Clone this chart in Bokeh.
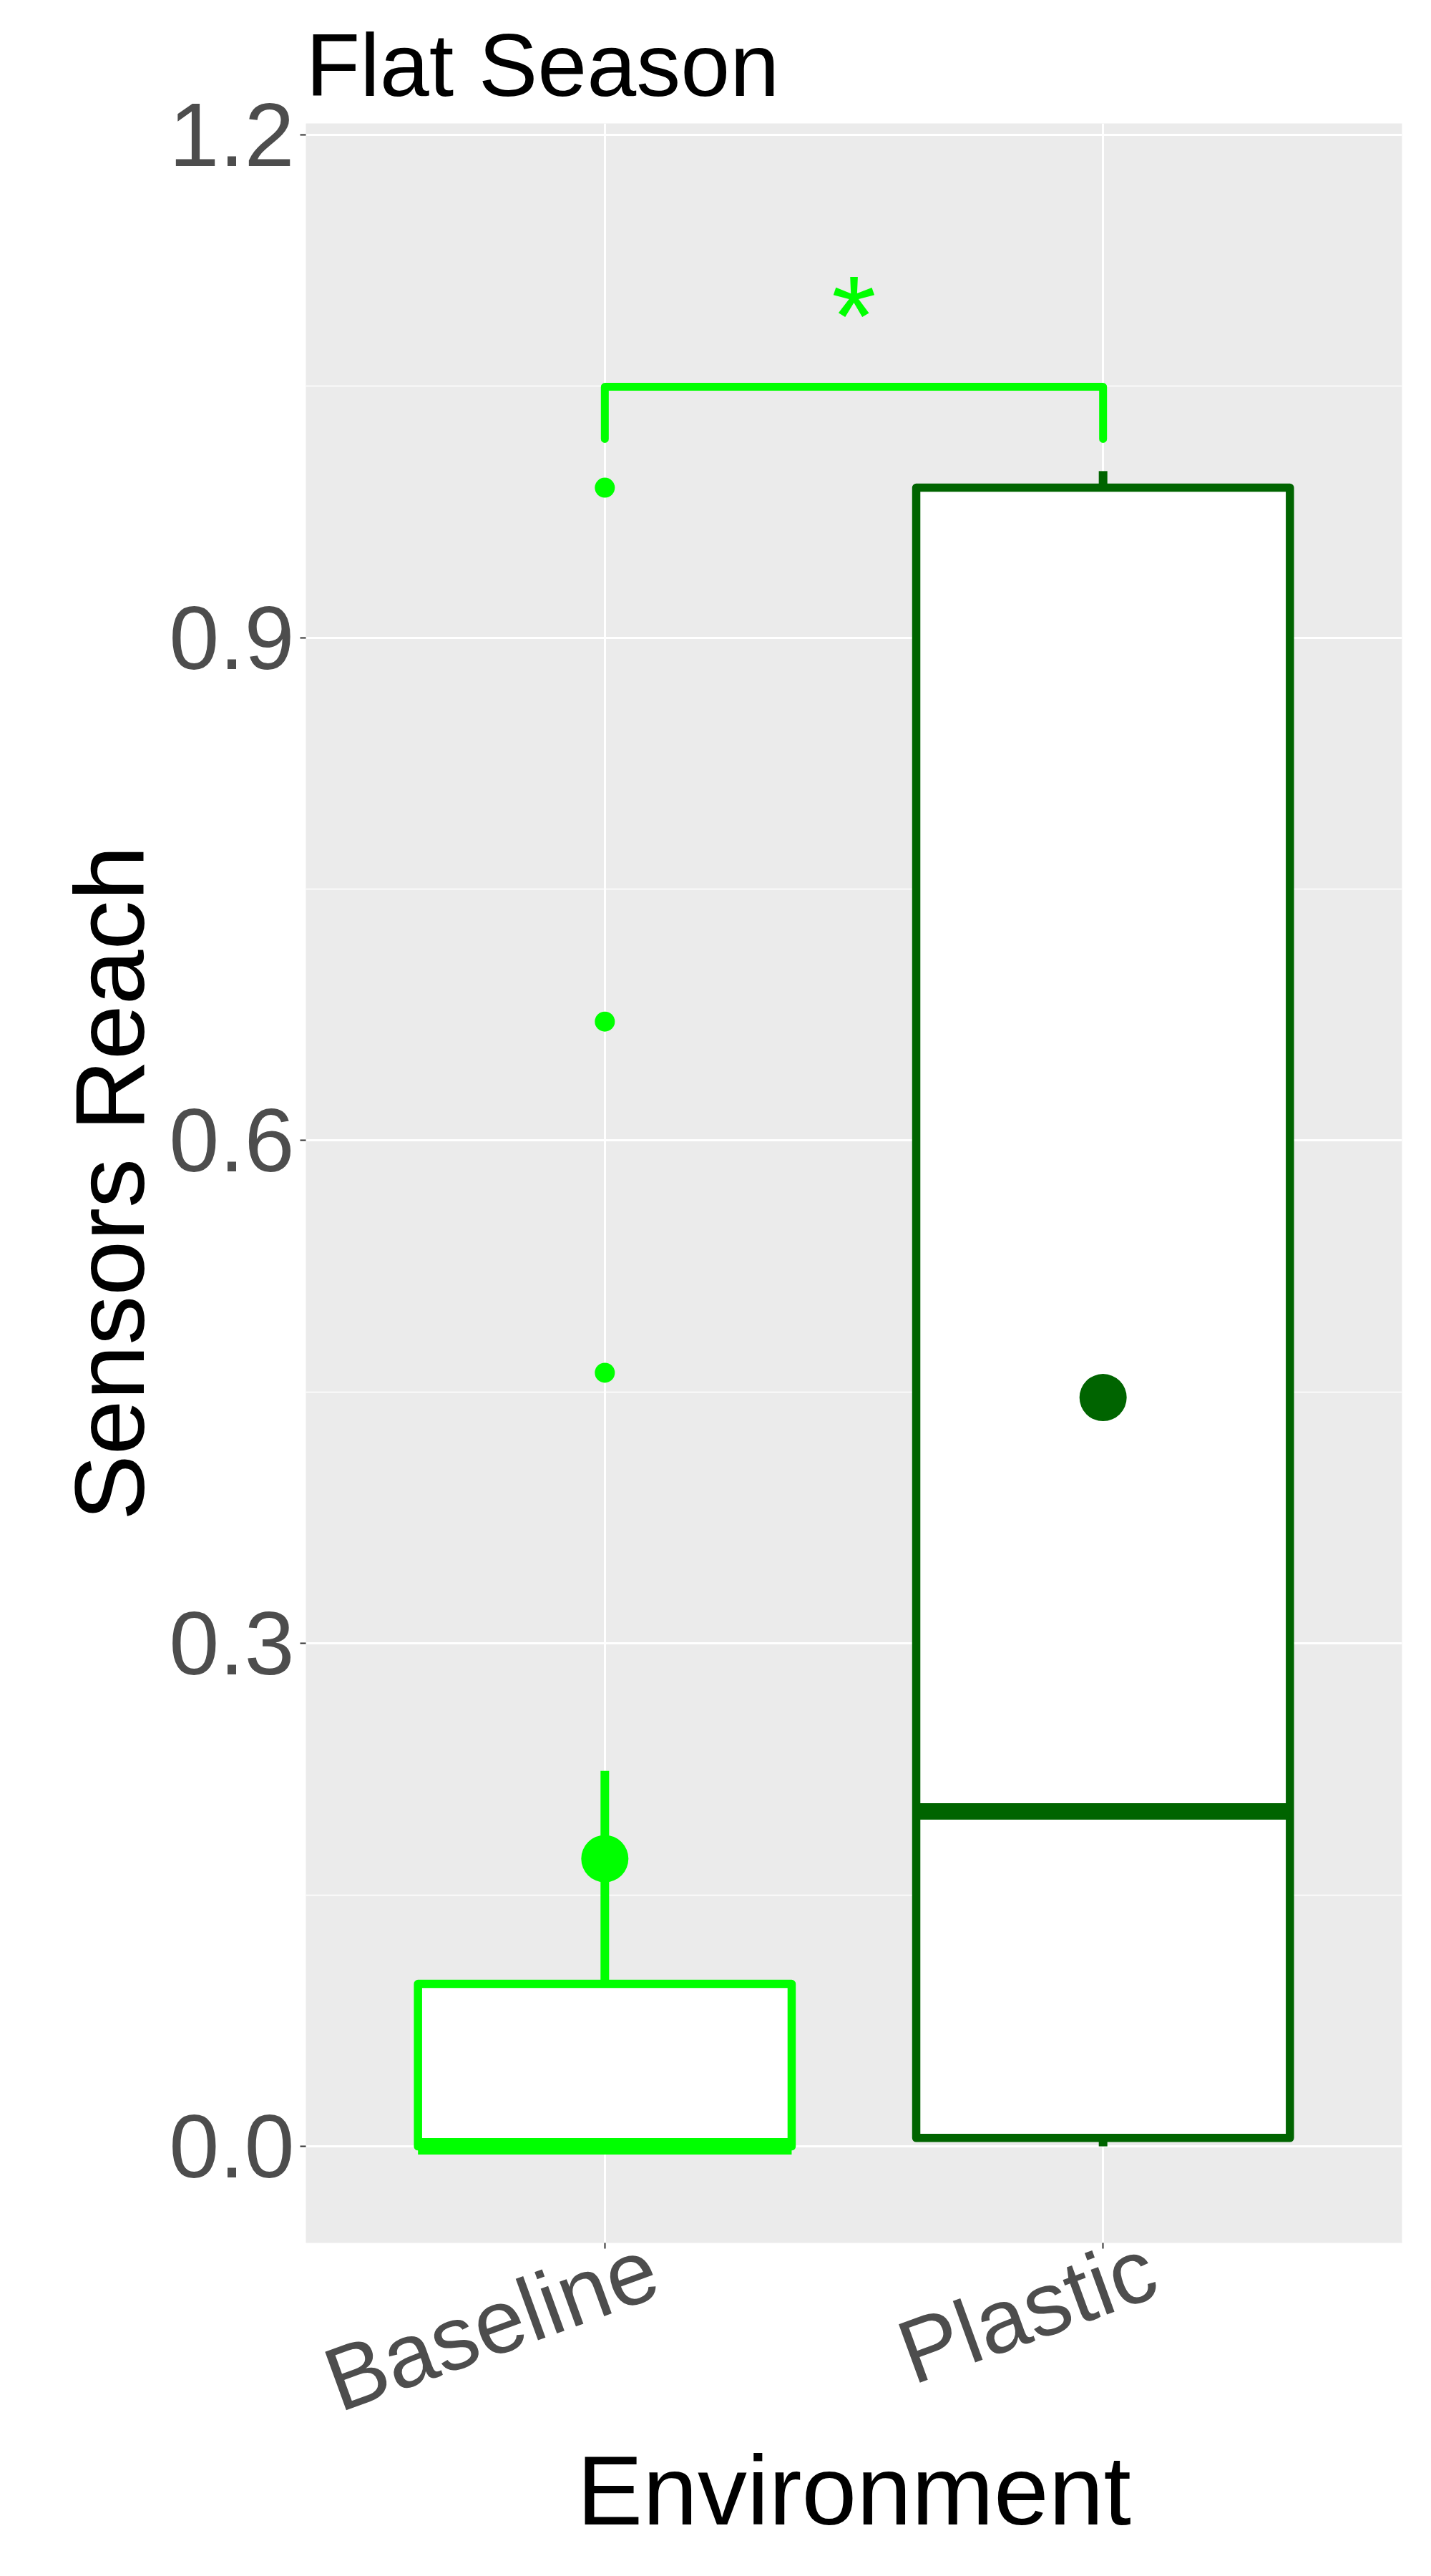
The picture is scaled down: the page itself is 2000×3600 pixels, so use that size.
from bokeh.plotting import figure
from bokeh.models import Range1d, FixedTicker, ColumnDataSource, LinearAxis, CustomJSTickFormatter
from bokeh.embed import file_html
from bokeh.resources import INLINE
from bokeh.core.properties import value
import math

# ---------------- data ----------------
categories = ["Baseline", "Plastic"]
colors = ["#00FF00", "#006400"]
q1 = [0.0, 0.005]
median = [0.0, 0.1998]
q3 = [0.0969, 0.9895]
whisker_low = [0.0, 0.0]
whisker_high = [0.224, 0.9994]
means = [0.1716, 0.4467]
outlier_group = ["Baseline", "Baseline", "Baseline"]
outlier_values = [0.4615, 0.671, 0.9895]
y_ticks = [0.0, 0.3, 0.6, 0.9, 1.2]
y_tick_labels = ["0.0", "0.3", "0.6", "0.9", "1.2"]
y_minor = [0.15, 0.45, 0.75, 1.05]
bracket_groups = ["Baseline", "Plastic"]
bracket_y = 1.0497
bracket_tip_y = 1.0186
signif_label = "*"
signif_y = 1.092

FONT = "Liberation Sans"
pos = {c: i + 1 for i, c in enumerate(categories)}
xs = [pos[c] for c in categories]
BOX_W = 0.75
LABEL_SHIFT = 0.098   # horizontal offset of the rotated category labels (style)

p = figure(width=1984, height=3584, output_backend="svg", toolbar_location=None,
           x_range=Range1d(0.4, 2.6), y_range=Range1d(-0.0576, 1.2068),
           min_border_left=427, min_border_right=25, min_border_top=172, min_border_bottom=450)

p.background_fill_color = "#EBEBEB"
p.border_fill_color = "white"
p.outline_line_color = None

# title
p.title.text = "Flat Season"
p.title.text_font = FONT
p.title.text_font_size = "124px"
p.title.text_font_style = "normal"
p.title.text_color = "black"
p.title.align = "left"
p.title.standoff = 26

# axes
xa = p.xaxis[0]
xa.ticker = FixedTicker(ticks=xs)
xa.formatter = CustomJSTickFormatter(code="return ''")
ya = p.yaxis[0]
ya.ticker = FixedTicker(ticks=y_ticks, minor_ticks=y_minor)
ya.major_label_overrides = {t: l for t, l in zip(y_ticks, y_tick_labels)}

lab_ax = LinearAxis(ticker=FixedTicker(ticks=[x + LABEL_SHIFT for x in xs]),
                    formatter=CustomJSTickFormatter(args=dict(cats=categories, shift=LABEL_SHIFT),
                                                    code="return cats[Math.round(tick - shift) - 1]"))
p.add_layout(lab_ax, "below")

for ax in (xa, ya, lab_ax):
    ax.axis_line_color = None
    ax.major_tick_line_color = "#333333"
    ax.major_tick_line_width = 2
    ax.major_tick_out = 8
    ax.major_tick_in = 0
    ax.minor_tick_out = 0
    ax.minor_tick_in = 0
    ax.major_label_text_font = FONT
    ax.major_label_text_font_size = "126px"
    ax.major_label_text_color = "#4D4D4D"
    ax.major_label_standoff = 8
    ax.axis_label_text_font = FONT
    ax.axis_label_text_font_size = "138px"
    ax.axis_label_text_font_style = "normal"
    ax.axis_label_text_color = "black"

xa.major_label_text_font_size = "1px"
xa.major_label_standoff = 0
lab_ax.major_tick_out = 0
lab_ax.major_tick_line_color = None
lab_ax.major_label_orientation = math.radians(20)
lab_ax.major_label_standoff = 23
lab_ax.axis_label = "Environment"
lab_ax.axis_label_standoff = -63
ya.axis_label = "Sensors Reach"
ya.axis_label_standoff = 3

p.xgrid.grid_line_color = "white"
p.xgrid.grid_line_width = 3
p.ygrid.grid_line_color = "white"
p.ygrid.grid_line_width = 3
p.ygrid.minor_grid_line_color = "white"
p.ygrid.minor_grid_line_width = 1.5

# outliers
p.scatter([pos[g] for g in outlier_group], outlier_values, size=28,
          color=[colors[categories.index(g)] for g in outlier_group], line_width=0)

# whiskers
p.segment(xs, whisker_low, xs, q1, line_color=colors, line_width=12)
p.segment(xs, q3, xs, whisker_high, line_color=colors, line_width=12)

# boxes
src = ColumnDataSource(dict(x=xs, left=[x - BOX_W / 2 for x in xs], right=[x + BOX_W / 2 for x in xs],
                            q1=q1, q3=q3, med=median, color=colors))
p.quad(left="left", right="right", bottom="q1", top="q3", source=src, fill_color="white",
       line_color="color", line_width=11.5, line_join="round")
p.segment(x0="left", x1="right", y0="med", y1="med", source=src, line_color="color",
          line_width=23)

# means
p.scatter(xs, means, size=66, color=colors, line_width=0)

# significance bracket
bx = [pos[g] for g in bracket_groups]
p.line([bx[0], bx[0], bx[1], bx[1]], [bracket_tip_y, bracket_y, bracket_y, bracket_tip_y],
       line_color=colors[0], line_width=11, line_join="round", line_cap="round")
p.text([sum(bx) / 2], [signif_y], text=[signif_label], text_color=colors[0],
       text_font=value(FONT), text_font_size="160px", text_align="center",
       text_baseline="alphabetic")

open("out.html", "w").write(file_html(p, INLINE))
